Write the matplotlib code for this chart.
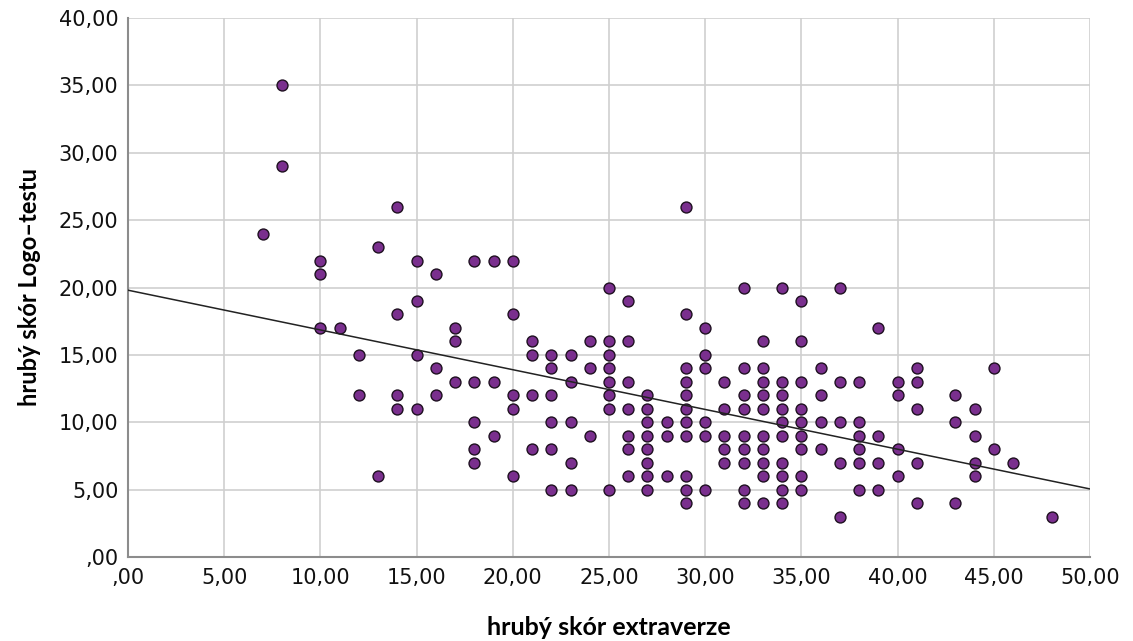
import numpy as np
import matplotlib
matplotlib.use("Agg")
import matplotlib.pyplot as plt
from matplotlib.ticker import FuncFormatter

# extraversion raw score -> list of Logo-test raw scores
extraverze_cols = [7, 8, 10, 11, 12, 13, 14, 15, 16, 17, 18, 19, 20, 21, 22, 23, 24, 25, 26, 27, 28,
                   29, 30, 31, 32, 33, 34, 35, 36, 37, 38, 39, 40, 41, 43, 44, 45, 46, 48]
logo_vals = [
    [24],
    [35, 29],
    [22, 21, 17],
    [17],
    [15, 12],
    [23, 6],
    [26, 18, 12, 11],
    [22, 19, 15, 11],
    [21, 14, 12],
    [17, 16, 13],
    [22, 13, 10, 8, 7],
    [22, 13, 9],
    [22, 18, 12, 11, 6],
    [16, 15, 12, 8],
    [15, 14, 12, 10, 8, 5],
    [15, 13, 10, 7, 5],
    [16, 14, 9],
    [20, 16, 15, 14, 13, 12, 11, 5],
    [19, 16, 13, 11, 9, 8, 6],
    [12, 11, 10, 9, 8, 7, 6, 5],
    [10, 9, 6],
    [26, 18, 14, 13, 12, 11, 10, 9, 6, 5, 4],
    [17, 15, 14, 10, 9, 5],
    [13, 11, 9, 8, 7],
    [20, 14, 12, 11, 9, 8, 7, 5, 4],
    [16, 14, 13, 12, 11, 9, 8, 7, 6, 4],
    [20, 13, 12, 11, 10, 9, 7, 6, 5, 4],
    [19, 16, 13, 11, 10, 9, 8, 6, 5],
    [14, 12, 10, 8],
    [20, 13, 10, 7, 3],
    [13, 10, 9, 8, 7, 5],
    [17, 9, 7, 5],
    [13, 12, 8, 6],
    [14, 13, 11, 7, 4],
    [12, 10, 4],
    [11, 9, 7, 6],
    [14, 8],
    [7],
    [3],
]

# linear fit line as shown in the chart (intercept, slope)
fit_intercept = 19.8
fit_slope = -0.295

x = np.array([c for c, vs in zip(extraverze_cols, logo_vals) for _ in vs], dtype=float)
y = np.array([v for vs in logo_vals for v in vs], dtype=float)

plt.rcParams['font.family'] = ['DejaVu Sans']

fig = plt.figure(figsize=(11.33, 6.41), dpi=100)
ax = fig.add_axes([128/1133, 1 - 557/641, (1090-128)/1133, (557-18)/641])

ax.set_xlim(0, 50)
ax.set_ylim(0, 40)
ax.set_xticks(np.arange(0, 51, 5))
ax.set_yticks(np.arange(0, 41, 5))

def fmt(v, pos):
    s = f"{v:.2f}".replace(".", ",")
    if s.startswith("0,"):
        s = s[1:]
    return s

ax.xaxis.set_major_formatter(FuncFormatter(fmt))
ax.yaxis.set_major_formatter(FuncFormatter(fmt))

ax.grid(True, color="#cfcfcf", linewidth=1.2)
ax.set_axisbelow(True)
for side in ["top", "right"]:
    ax.spines[side].set_visible(False)
for side in ["left", "bottom"]:
    ax.spines[side].set_color("#8c8c8c")
    ax.spines[side].set_linewidth(1.5)
ax.tick_params(length=0, labelsize=15, colors="#111111")
ax.tick_params(axis="y", pad=7)
ax.tick_params(axis="x", pad=8)

ax.scatter(x, y, s=62, facecolor="#7a2f8e", edgecolor="#1e1020", linewidth=1.0, zorder=3)

xl = np.array(ax.get_xlim())
ax.plot(xl, fit_intercept + fit_slope * xl, color="#222222", linewidth=1.1, zorder=4)

ax.set_xlabel("hrubý skór extraverze", fontsize=18, fontweight="bold",
              family=["Lato", "DejaVu Sans"], labelpad=20)
ax.set_ylabel("hrubý skór Logo–testu", fontsize=17, fontweight="bold",
              family=["Lato", "DejaVu Sans"], labelpad=13)

fig.savefig("out.png", dpi=100)
